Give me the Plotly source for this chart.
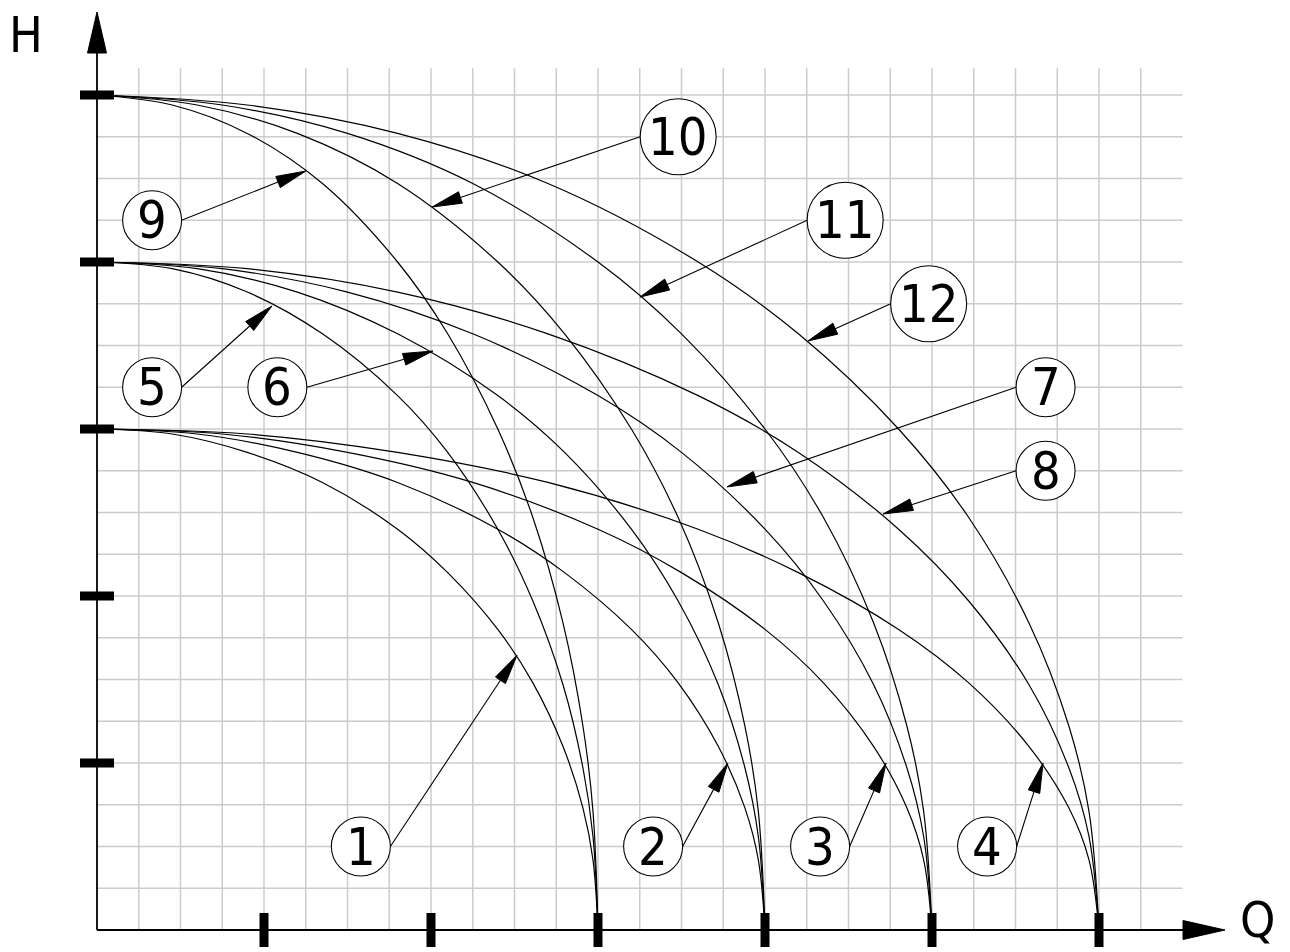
import numpy as np
import plotly.graph_objects as go

# ---------------- data ----------------
# Q samples for curves that reach H = 0 at Q = 3, 4, 5, 6
q_end3 = [0, 0.45, 0.90, 1.35, 1.80, 2.10, 2.40, 2.61, 2.79, 2.91, 2.97, 3.00]
q_end4 = [0, 0.60, 1.20, 1.80, 2.40, 2.80, 3.20, 3.48, 3.72, 3.88, 3.96, 4.00]
q_end5 = [0, 0.75, 1.50, 2.25, 3.00, 3.50, 4.00, 4.35, 4.65, 4.85, 4.95, 5.00]
q_end6 = [0, 0.90, 1.80, 2.70, 3.60, 4.20, 4.80, 5.22, 5.58, 5.82, 5.94, 6.00]
# H samples for curves that start at H = 3, 4, 5 (Q = 0)
h_start3 = [3.00, 2.97, 2.86, 2.68, 2.40, 2.14, 1.80, 1.48, 1.10, 0.73, 0.42, 0]
h_start4 = [4.00, 3.96, 3.82, 3.57, 3.20, 2.86, 2.40, 1.97, 1.47, 0.97, 0.56, 0]
h_start5 = [5.00, 4.94, 4.77, 4.47, 4.00, 3.57, 3.00, 2.47, 1.84, 1.22, 0.71, 0]

curve_names = ["1", "2", "3", "4", "5", "6", "7", "8", "9", "10", "11", "12"]
curve_q = [q_end3, q_end4, q_end5, q_end6] * 3
curve_h = [h_start3] * 4 + [h_start4] * 4 + [h_start5] * 4

q_ticks = [1, 2, 3, 4, 5, 6]
h_ticks = [1, 2, 3, 4, 5]

# numbered callouts: circle centre, arrow tip on the curve, side the leader leaves from
label_q = [1.58, 3.33, 4.33, 5.33, 0.33, 1.08, 5.68, 5.68, 0.33, 3.48, 4.48, 4.98]
label_h = [0.50, 0.50, 0.50, 0.50, 3.25, 3.25, 3.25, 2.75, 4.25, 4.75, 4.25, 3.75]
tip_q = [2.515, 3.778, 4.725, 5.665, 1.048, 2.012, 3.772, 4.707, 1.251, 2.006, 3.251, 4.257]
tip_h = [1.645, 1.000, 1.000, 1.000, 3.737, 3.467, 2.653, 2.491, 4.545, 4.329, 3.790, 3.527]
leader_side = [1, 1, 1, 1, 1, 1, -1, -1, 1, -1, -1, -1]

# ---------------- geometry ----------------
W, H = 1290, 952
OX, OY = 97, 930          # pixel position of the origin
S = 167.0                 # pixels per unit, both axes
px = 1.0 / S

x_range = [-OX / S, (W - OX) / S]
y_range = [-(H - OY) / S, OY / S]


def X(p):
    return (p - OX) / S


def Y(p):
    return (OY - p) / S


FONT = "DejaVu Sans Condensed, Liberation Sans Narrow, DejaVu Sans, sans-serif"
FSIZE = 52

fig = go.Figure()
shapes = []
annotations = []

# ---------------- grid ----------------
grid_qs = np.arange(0.25, 6.26, 0.25)
grid_hs = np.arange(0.25, 5.01, 0.25)
gx, gy = [], []
for q in grid_qs:
    gx += [q, q, None]
    gy += [0, 5.16, None]
for h in grid_hs:
    gx += [0, 6.5, None]
    gy += [h, h, None]
fig.add_trace(go.Scatter(x=gx, y=gy, mode="lines",
                         line=dict(color="#cccccc", width=1.5),
                         hoverinfo="skip", showlegend=False))

# ---------------- curves ----------------
for name, qs, hs in zip(curve_names, curve_q, curve_h):
    fig.add_trace(go.Scatter(x=qs, y=hs, mode="lines", name=name,
                             line=dict(color="black", width=1.2, shape="spline", smoothing=1.0),
                             showlegend=False))

# ---------------- axes with arrows ----------------
ax_line = dict(color="black", width=1.8)
y_top_base = Y(53)
y_top_tip = Y(12)
x_end_base = X(1183)
x_end_tip = X(1225)
shapes.append(dict(type="line", x0=0, y0=0, x1=0, y1=y_top_base, xref="x", yref="y", line=ax_line))
shapes.append(dict(type="line", x0=0, y0=0, x1=x_end_base, y1=0, xref="x", yref="y", line=ax_line))
hw = 9.5 * px
shapes.append(dict(type="path", xref="x", yref="y",
                   path=f"M{-hw},{y_top_base} L{hw},{y_top_base} L0,{y_top_tip} Z",
                   fillcolor="black", line=dict(color="black", width=1)))
shapes.append(dict(type="path", xref="x", yref="y",
                   path=f"M{x_end_base},{-hw} L{x_end_base},{hw} L{x_end_tip},0 Z",
                   fillcolor="black", line=dict(color="black", width=1)))

# tick bars
tl = 17 * px
tw = 4.5 * px
for q in q_ticks:
    shapes.append(dict(type="rect", xref="x", yref="y", x0=q - tw, x1=q + tw, y0=-tl, y1=tl,
                       fillcolor="black", line=dict(width=0)))
for h in h_ticks:
    shapes.append(dict(type="rect", xref="x", yref="y", x0=-tl, x1=tl, y0=h - tw, y1=h + tw,
                       fillcolor="black", line=dict(width=0)))

annotations.append(dict(x=X(26), y=Y(35), xref="x", yref="y", text="H",
                        showarrow=False, font=dict(family=FONT, size=50, color="black"),
                        xanchor="center", yanchor="middle"))
annotations.append(dict(x=X(1257), y=Y(920), xref="x", yref="y", text="Q",
                        showarrow=False, font=dict(family=FONT, size=50, color="black"),
                        xanchor="center", yanchor="middle"))

# ---------------- callouts ----------------
L_head = 30 * px
W_head = 6 * px
for name, cq, ch, tq, th, side in zip(curve_names, label_q, label_h, tip_q, tip_h, leader_side):
    r = (38 if len(name) > 1 else 29.5) * px
    shapes.append(dict(type="circle", xref="x", yref="y", x0=cq - r, x1=cq + r, y0=ch - r, y1=ch + r,
                       fillcolor="white", line=dict(color="black", width=1.1)))
    sq, sh = cq + side * r, ch
    dq, dh = tq - sq, th - sh
    n = (dq ** 2 + dh ** 2) ** 0.5
    uq, uh = dq / n, dh / n
    bq, bh = tq - L_head * uq, th - L_head * uh
    shapes.append(dict(type="line", xref="x", yref="y", x0=sq, y0=sh, x1=bq, y1=bh,
                       line=dict(color="black", width=1.1)))
    p1 = (bq - W_head * uh, bh + W_head * uq)
    p2 = (bq + W_head * uh, bh - W_head * uq)
    shapes.append(dict(type="path", xref="x", yref="y",
                       path=f"M{p1[0]},{p1[1]} L{tq},{th} L{p2[0]},{p2[1]} Z",
                       fillcolor="black", line=dict(color="black", width=1)))
    annotations.append(dict(x=cq, y=ch, xref="x", yref="y", text=name, showarrow=False,
                            font=dict(family=FONT, size=FSIZE, color="black"),
                            xanchor="center", yanchor="middle"))

fig.update_layout(
    width=W, height=H,
    margin=dict(l=0, r=0, t=0, b=0),
    paper_bgcolor="white", plot_bgcolor="white",
    xaxis=dict(range=x_range, visible=False, fixedrange=True),
    yaxis=dict(range=y_range, visible=False, fixedrange=True),
    shapes=shapes, annotations=annotations, showlegend=False,
    hovermode=False,
)

fig.write_html("out.html",
               config={"displayModeBar": False, "staticPlot": True},
               post_script="document.body.style.margin='0';document.body.style.overflow='hidden';")
